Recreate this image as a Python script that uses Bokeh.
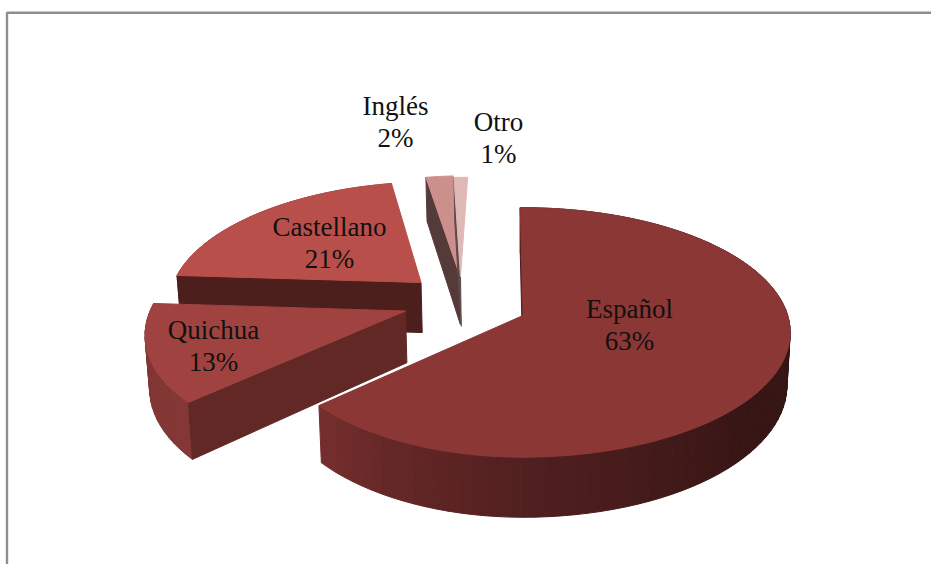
import math
from bokeh.plotting import figure
from bokeh.models import Range1d, ColumnDataSource
from bokeh.core.properties import value
from bokeh.embed import file_html
from bokeh.resources import INLINE

# ---- data
categories = ["Español", "Quichua", "Castellano", "Inglés", "Otro"]
shares = [63, 13, 21, 2, 1]

# ---- styling / layout
top_colors = ["#8b3736", "#a04340", "#b94f4b", "#cd8f8c", "#e0b8b7"]
wall_colors = ["#4a1c1a", "#612826", "#4c1e1c", "#553a3a", "#5e4a4a"]
# screen position of each slice's apex (explosion of the slices)
apex_x = [522.5, 405, 420.5, 459, 460]
apex_y = [315, 310.5, 282, 274, 276]
rotation = [-0.7, 0, 0, 0, 0]
end_rotation = [1.2, 0, 0, 0, 0]
label_x = [629, 213, 329, 395, 498]
label_y = [308, 329, 226, 105, 121]
LINE_GAP = 32
FONT = "Liberation Serif"
FONT_SIZE = "27px"

W, H = 931, 564
VX, VY = 522.0, 316.0      # perspective centre
A, B, K = 257.0, 122.7, 0.136
A_RIGHT, A_LEFT = 265.0, 250.0  # large slice's own horizontal radii
D0 = 52.0                  # extrusion
M = 0.012                  # horizontal shrink of the lower face


def project(xw, yw):
    s = 1.0 / (1.0 - K * yw)
    return VX + xw * s, VY + B * yw * s, s


def lower(x, y, s):
    return VX + (x - VX) * (1 - M), y + D0 * s


def apex_world(px, py):
    t = (py - VY) / B
    yw = t / (1 + K * t)
    s = 1.0 / (1.0 - K * yw)
    return (px - VX) / s, yw


def rim_factor(deg):
    stops = [(90, .38), (130, .40), (180, .58), (226, .83), (280, .80)]
    if deg <= stops[0][0]:
        return stops[0][1]
    for (a0, f0), (a1, f1) in zip(stops, stops[1:]):
        if deg <= a1:
            return f0 + (f1 - f0) * (deg - a0) / (a1 - a0)
    return stops[-1][1]


def scale_hex(c, f):
    r, g, b = [int(c[i:i + 2], 16) for i in (1, 3, 5)]
    return "#%02x%02x%02x" % (int(r * f), int(g * f), int(b * f))


total = sum(shares)
start = 0.0
slices = []
for i, v in enumerate(shares):
    sweep = 360.0 * v / total
    slices.append((i, start + rotation[i], start + sweep + end_rotation[i]))
    start += sweep

# painter's order: back to front
order = [3, 4, 2, 1, 0]
by_index = {s[0]: s for s in slices}
xs, ys, fills = [], [], []

for i in order:
    _, a0, a1 = by_index[i]
    ox, oy = apex_world(apex_x[i], apex_y[i])
    n = max(2, int((a1 - a0) / 2.5))
    pts = []
    angs = [a0 + (a1 - a0) * j / n for j in range(n + 1)]
    for deg in angs:
        th = math.radians(deg)
        X, Y = math.sin(th), -math.cos(th)
        if i == 0:
            ax = A_RIGHT if X > 0 else A_LEFT
        else:
            ax = A
        pts.append(project(ox + ax * X, oy + Y))
    ap = project(ox, oy)
    # outer rim, shaded strip by strip
    if i < 3:
        for j in range(n):
            p0, p1 = pts[j], pts[j + 1]
            q = [(p0[0], p0[1]), (p1[0], p1[1]), lower(*p1), lower(*p0)]
            xs.append([c[0] for c in q]); ys.append([c[1] for c in q])
            fills.append(scale_hex(top_colors[i], rim_factor((angs[j] + angs[j + 1]) / 2)))
    # radial wall that faces the viewer
    e = pts[0]
    q = [(ap[0], ap[1]), (e[0], e[1]), lower(*e), lower(*ap)]
    xs.append([c[0] for c in q]); ys.append([c[1] for c in q]); fills.append(wall_colors[i])
    # top face
    xs.append([ap[0]] + [c[0] for c in pts]); ys.append([ap[1]] + [c[1] for c in pts]); fills.append(top_colors[i])

p = figure(width=W, height=H, output_backend="svg", toolbar_location=None,
           x_range=Range1d(0, W), y_range=Range1d(H, 0), min_border=0,
           margin=(0, 0, 0, 0))
p.axis.visible = False
p.grid.visible = False
p.outline_line_color = None
p.background_fill_color = "white"

p.line([6.5, 6.5, W], [H, 12.3, 12.3], line_color="#8e8e8e", line_width=2.4)
p.patches(xs, ys, fill_color=fills, line_color=fills, line_width=1.0)

txt = ColumnDataSource(dict(
    x=label_x + label_x,
    y=label_y + [y + LINE_GAP for y in label_y],
    t=categories + [f"{v}%" for v in shares],
))
p.text("x", "y", text="t", source=txt, text_font=value(FONT), text_font_size=value(FONT_SIZE),
       text_color="#111111", text_align="center", text_baseline="middle")

open("out.html", "w").write(file_html(p, INLINE))
